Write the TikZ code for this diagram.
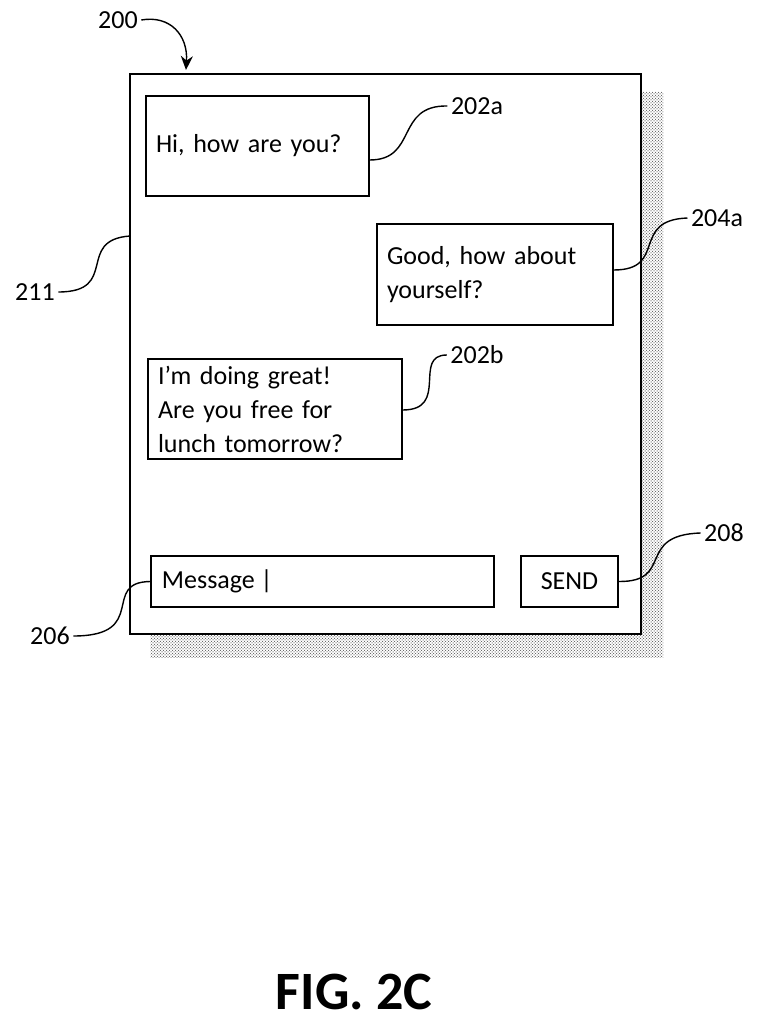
\documentclass[tikz,border=0pt]{standalone}
\usepackage{fontspec}
\setmainfont{Carlito}
\usetikzlibrary{positioning}
\usetikzlibrary{arrows.meta}
\usetikzlibrary{patterns}

\tikzset{
  msgbox/.style={draw, line width=1.2pt, minimum height=100pt, inner xsep=10pt, inner ysep=4pt, align=left, font=\fontsize{26}{34}\selectfont},
  reflabel/.style={font=\fontsize{26}{30}\selectfont},
  leader/.style={line width=1.4pt}
}

\begin{document}
\begin{tikzpicture}[x=1pt, y=-1pt]
    \useasboundingbox (0,0) rectangle (757,1024);

    % shadow and screen
    \fill[pattern=crosshatch dots, pattern color=gray!80!black] (150,92) rectangle (663,657);
    \fill[pattern=crosshatch dots, pattern color=gray!80!black] (151,93) rectangle (663,657);
    \filldraw[fill=white, draw=black, line width=1.2pt] (130,74) rectangle (641,634);
    \coordinate (screenleft) at (130,236);
    \coordinate (screentop) at (186,70);

    % messages
    \node[msgbox, minimum width=223pt, text width=203pt] (msgA) at (257.5,146) {Hi, how are you?};
    \node[msgbox, minimum width=236pt, minimum height=101pt, text width=216pt] (msgB) at (495,274.5) {Good, how about\\yourself?};
    \node[msgbox, minimum width=254pt, text width=234pt] (msgC) at (275,409) {I’m doing great!\\Are you free for\\lunch tomorrow?};

    % input row
    \node[msgbox, minimum width=343pt, minimum height=51pt, inner sep=0pt] (input) at (322.5,581.5) {};
    \node[reflabel, anchor=west] at (input.west) [xshift=8pt] {Message |};
    \node[msgbox, minimum width=97pt, minimum height=51pt, inner sep=0pt, align=center] (send) at (569.5,581.5) {SEND};

    % reference labels
    \node[reflabel] (l200) at (118,20) {200};
    \node[reflabel] (l202a) at (477,106) {202a};
    \node[reflabel] (l204a) at (717,218) {204a};
    \node[reflabel] (l211) at (35,292) {211};
    \node[reflabel] (l202b) at (477,355) {202b};
    \node[reflabel] (l208) at (724,533) {208};
    \node[reflabel] (l206) at (50,636) {206};

    \draw[leader, -{Stealth[length=14pt, width=12pt]}] (l200.east) .. controls (170,15) and (188,35) .. (screentop);
    \draw[leader] (l202a.west) .. controls (395,105) and (418,160) .. (msgA.east |- 0,160);
    \draw[leader] (l204a.west) .. controls (630,220) and (668,270) .. (msgB.east |- 0,270);
    \draw[leader] (l211.east) .. controls (120,292) and (75,240) .. (screenleft);
    \draw[leader] (l202b.west) .. controls (412,355) and (450,410) .. (msgC.east |- 0,410);
    \draw[leader] (l208.west) .. controls (635,535) and (675,582) .. (send.east);
    \draw[leader] (l206.east) .. controls (150,636) and (100,582) .. (input.west);

    \node[font=\bfseries\fontsize{54}{60}\selectfont] (fig) at (354,992) {FIG. 2C};
\end{tikzpicture}
\end{document}
